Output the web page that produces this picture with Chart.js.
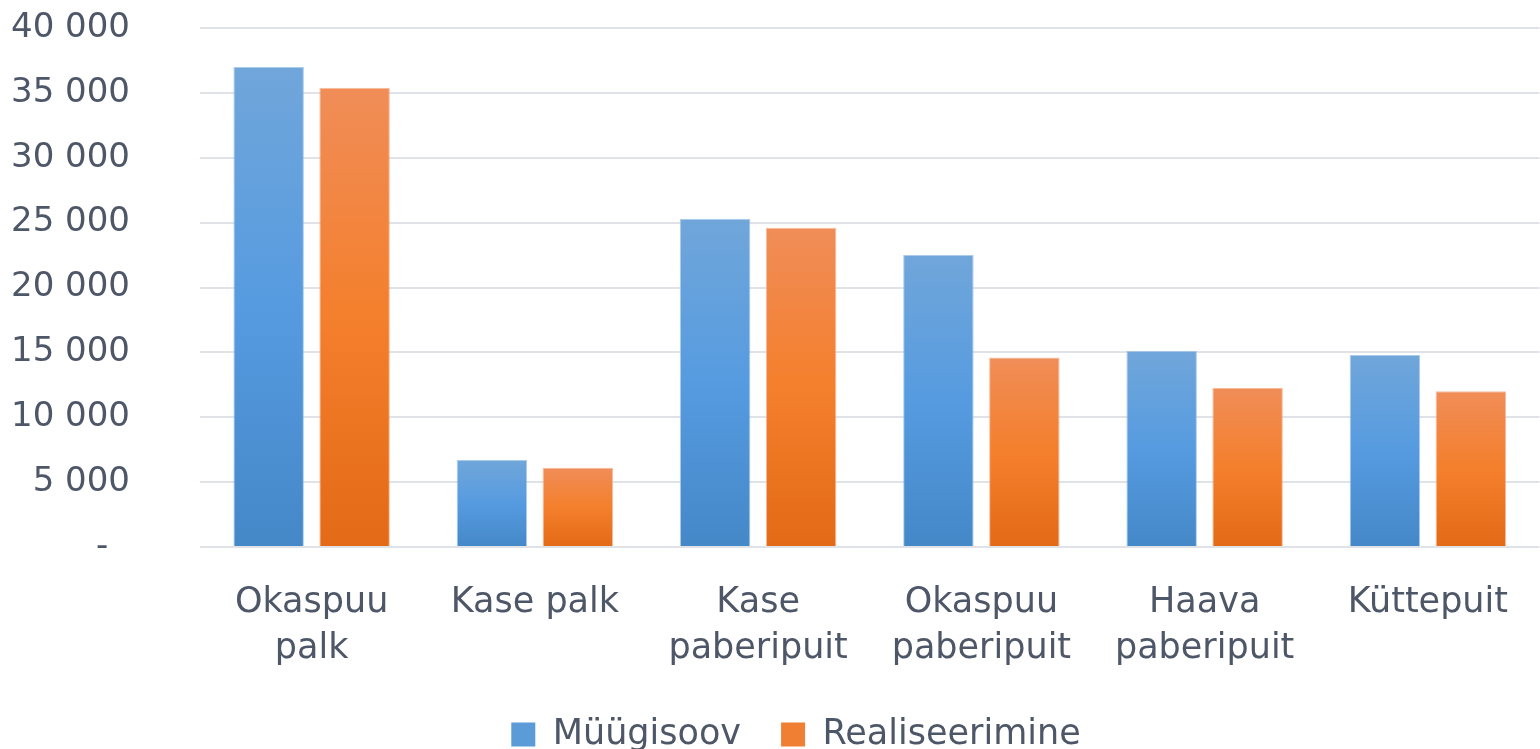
<!DOCTYPE html>
<html>
<head>
<meta charset="utf-8">
<script src="https://cdn.jsdelivr.net/npm/chart.js@4.4.1/dist/chart.umd.min.js"></script>
<style>
  html, body { margin: 0; padding: 0; background: #ffffff; }
  #wrap { width: 1540px; height: 749px; position: relative; }
</style>
</head>
<body>
<div id="wrap"><canvas id="c"></canvas></div>
<script>
const categories = [["Okaspuu", "palk"], "Kase palk", ["Kase", "paberipuit"], ["Okaspuu", "paberipuit"], ["Haava", "paberipuit"], "Küttepuit"];
const seriesNames = ["Müügisoov", "Realiseerimine"];
const muugisoov = [37000, 6700, 25300, 22500, 15100, 14800];
const realiseerimine = [35400, 6100, 24600, 14600, 12250, 12000];
const yTicks = [0, 5000, 10000, 15000, 20000, 25000, 30000, 35000, 40000];

const textColor = '#4e5768';
const fontFamily = '"DejaVu Sans", sans-serif';

function gradientFor(stops) {
  return function (ctx) {
    const chart = ctx.chart;
    if (!chart.chartArea || ctx.type !== 'data') return stops[1];
    const yScale = chart.scales.y;
    const v = ctx.raw;
    const top = yScale.getPixelForValue(v);
    const bottom = yScale.getPixelForValue(0);
    const g = chart.ctx.createLinearGradient(0, top, 0, bottom);
    g.addColorStop(0, stops[0]);
    g.addColorStop(0.5, stops[1]);
    g.addColorStop(1, stops[2]);
    return g;
  };
}

const blueStops = ['#70a6da', '#569be0', '#4488c8'];
const orangeStops = ['#f08d58', '#f47f2c', '#e36a17'];

const legendShift = {
  id: 'legendShift',
  afterLayout(chart) {
    const l = chart.legend;
    if (l) { l.left += 26; l.right += 26; }
  }
};

new Chart(document.getElementById('c'), {
  type: 'bar',
  data: {
    labels: categories,
    datasets: [
      {
        label: seriesNames[0],
        data: muugisoov,
        backgroundColor: gradientFor(blueStops),
        borderColor: 'rgba(150,190,230,0.8)',
        borderWidth: 1,
        categoryPercentage: 0.77,
        barPercentage: 0.82
      },
      {
        label: seriesNames[1],
        data: realiseerimine,
        backgroundColor: gradientFor(orangeStops),
        borderColor: 'rgba(245,170,130,0.8)',
        borderWidth: 1,
        categoryPercentage: 0.77,
        barPercentage: 0.82
      }
    ]
  },
  plugins: [legendShift],
  options: {
    responsive: true,
    maintainAspectRatio: false,
    animation: false,
    layout: { padding: { top: 28, right: 0, bottom: -13, left: 0 } },
    plugins: {
      tooltip: { enabled: false },
      legend: {
        position: 'bottom',
        labels: {
          color: textColor,
          font: { family: fontFamily, size: 35 },
          boxWidth: 24,
          boxHeight: 24,
          padding: 40,
          generateLabels: function (chart) {
            return [
              { text: seriesNames[0], fillStyle: '#5a9bd8', strokeStyle: '#5a9bd8', lineWidth: 0, datasetIndex: 0, fontColor: textColor },
              { text: seriesNames[1], fillStyle: '#f07f33', strokeStyle: '#f07f33', lineWidth: 0, datasetIndex: 1, fontColor: textColor }
            ];
          }
        }
      }
    },
    scales: {
      x: {
        grid: { display: false, drawTicks: false },
        border: { display: false },
        ticks: {
          color: textColor,
          font: { family: fontFamily, size: 35, lineHeight: 1.34 },
          padding: 32,
          maxRotation: 0,
          autoSkip: false
        },
        afterFit: function (scale) { scale.height = 130; }
      },
      y: {
        min: 0,
        max: 40000,
        afterBuildTicks: function (scale) {
          scale.ticks = yTicks.map(v => ({ value: v }));
        },
        grid: { color: '#dfe2e7', lineWidth: 2, drawTicks: true, tickLength: 66, tickColor: 'rgba(0,0,0,0)' },
        border: { display: false },
        ticks: {
          color: textColor,
          font: { family: fontFamily, size: 34 },
          padding: 4,
          callback: function (v) {
            if (v === 0) return '-  ';
            return String(v).replace(/\B(?=(\d{3})+(?!\d))/g, ' ');
          }
        },
        afterFit: function (scale) { scale.width = 200; }
      }
    }
  }
});
</script>
</body>
</html>
